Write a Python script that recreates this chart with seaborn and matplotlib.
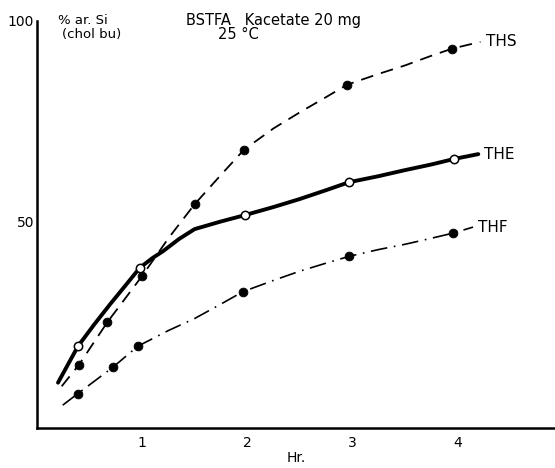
import matplotlib
matplotlib.use("Agg")
import matplotlib.pyplot as plt
import seaborn as sns
import pandas as pd

# measured points (hours, % silylated)
ths_x = [0.40, 0.67, 1.00, 1.50, 1.97, 2.95, 3.95]
ths_y = [14.3, 24.9, 36.4, 54.3, 67.9, 84.1, 93.1]
the_x = [0.39, 0.98, 1.98, 2.97, 3.97]
the_y = [18.9, 38.5, 51.6, 59.8, 65.6]
thf_x = [0.39, 0.72, 0.96, 1.96, 2.97, 3.96]
thf_y = [7.1, 13.6, 18.9, 32.5, 41.3, 47.1]

# hand-drawn curves (including the drawn ends)
ths_curve_x = [0.235, 0.40, 0.67, 1.00, 1.25, 1.50, 1.75, 1.97, 2.25, 2.50, 2.75, 2.95, 3.25, 3.50, 3.75, 3.95, 4.22]
ths_curve_y = [8.9, 14.3, 24.9, 36.4, 45.8, 54.3, 61.6, 67.9, 73.2, 77.2, 81.0, 84.1, 86.8, 88.9, 91.3, 93.1, 94.8]
the_curve_x = [0.20, 0.39, 0.55, 0.70, 0.85, 0.98, 1.10, 1.20, 1.35, 1.50, 1.75, 1.98, 2.25, 2.50, 2.75, 2.97, 3.25, 3.50, 3.75, 3.97, 4.20]
the_curve_y = [9.8, 18.9, 24.5, 29.5, 34.3, 38.5, 40.9, 42.6, 45.6, 48.1, 50.0, 51.6, 53.6, 55.6, 57.8, 59.8, 61.3, 62.8, 64.2, 65.6, 66.8]
thf_curve_x = [0.245, 0.39, 0.72, 0.96, 1.25, 1.50, 1.75, 1.96, 2.25, 2.50, 2.75, 2.97, 3.25, 3.50, 3.75, 3.96, 4.15]
thf_curve_y = [4.2, 7.1, 13.6, 18.9, 22.8, 25.8, 29.4, 32.5, 35.3, 37.6, 39.6, 41.3, 43.0, 44.3, 45.8, 47.1, 48.6]

series_labels = ["THS", "THE", "THF"]
x_ticks = [1, 2, 3, 4]
y_ticks = [50, 100]
y_tick_labels = ["50", "100"]

sns.set_style("white")
plt.rcParams["font.family"] = ["DejaVu Sans"]
plt.rcParams["text.color"] = "black"
plt.rcParams["xtick.color"] = "black"
plt.rcParams["ytick.color"] = "black"
plt.rcParams["axes.labelcolor"] = "black"
plt.rcParams["axes.edgecolor"] = "black"

fig = plt.figure(figsize=(5.55, 4.68), dpi=100)
ax = fig.add_axes([37 / 555, 1 - 428 / 468, 1 - 37 / 555, (428 - 21) / 468])

curves = [
    (ths_curve_x, ths_curve_y, dict(linewidth=1.3, linestyle=(0, (7, 4.5)))),
    (the_curve_x, the_curve_y, dict(linewidth=2.8, linestyle="-")),
    (thf_curve_x, thf_curve_y, dict(linewidth=1.2, linestyle=(0, (10, 4, 1, 4)))),
]
for cx, cy, style in curves:
    df = pd.DataFrame({"x": cx, "y": cy})
    sns.lineplot(data=df, x="x", y="y", sort=False, estimator=None,
                 color="black", ax=ax, zorder=2, **style)

sns.scatterplot(x=ths_x, y=ths_y, color="black", s=40, edgecolor="black",
                linewidth=0.6, ax=ax, zorder=3)
sns.scatterplot(x=thf_x, y=thf_y, color="black", s=40, edgecolor="black",
                linewidth=0.6, ax=ax, zorder=3)
sns.scatterplot(x=the_x, y=the_y, color="white", s=36, edgecolor="black",
                linewidth=1.1, ax=ax, zorder=3)

# curve labels at the right-hand ends
for lab, cx, cy in zip(series_labels, [ths_curve_x, the_curve_x, thf_curve_x],
                       [ths_curve_y, the_curve_y, thf_curve_y]):
    ax.text(cx[-1] + 0.05, cy[-1], lab, fontsize=11, va="center", ha="left")

ax.set_xlim(0, 4.93)
ax.set_ylim(-1.5, 100)
ax.set_xticks(x_ticks)
ax.set_xticklabels([str(t) for t in x_ticks], fontsize=10)
ax.set_yticks(y_ticks)
ax.set_yticklabels(y_tick_labels, fontsize=10)
ax.tick_params(axis="x", direction="inout", length=9, width=1, pad=1)
ax.tick_params(axis="y", direction="in", length=9, width=1, pad=2)
ax.set_xlabel("Hr.", fontsize=10, labelpad=1)
ax.set_ylabel("")

sns.despine(ax=ax)
ax.spines["left"].set_linewidth(1.8)
ax.spines["bottom"].set_linewidth(1.8)

ax.text(0.20, 100, "% ar. Si", fontsize=9.5, va="center", ha="left")
ax.text(0.24, 96.6, "(chol bu)", fontsize=9.5, va="center", ha="left")
ax.text(2.25, 100, "BSTFA   Kacetate 20 mg", fontsize=10.5, va="center", ha="center")
ax.text(1.92, 96.6, "25 °C", fontsize=10.5, va="center", ha="center")

fig.savefig("out.png", dpi=100)
